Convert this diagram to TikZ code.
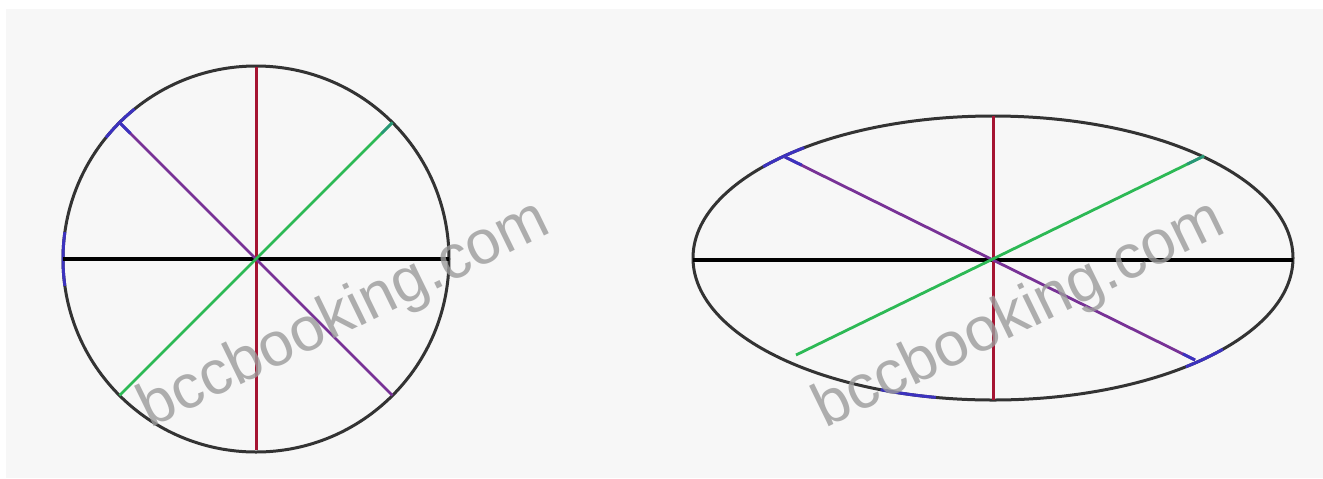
\documentclass[tikz,border=0pt]{standalone}
\usepackage{fontspec}
\usepackage{xcolor}
\usepackage{tikz}
\usetikzlibrary{calc}
\newfontfamily\wmfont{Liberation Sans}

\definecolor{bgray}{RGB}{247,247,247}
\definecolor{crim}{RGB}{165,20,50}
\definecolor{purp}{RGB}{120,50,150}
\definecolor{grn}{RGB}{45,185,85}
\definecolor{blu}{RGB}{60,50,190}
\definecolor{cyn}{RGB}{40,150,120}
\definecolor{wmgray}{RGB}{155,155,155}

\begin{document}
\begin{tikzpicture}[
x=0.5pt,
y=-0.5pt,
outline/.style={
    draw=black!80,
    line width=1.5pt
},
axisline/.style={
    draw=black,
    line width=1.6pt
},
vertline/.style={
    draw=crim,
    line width=1.5pt
},
diagA/.style={
    draw=purp,
    line width=1.4pt
},
diagB/.style={
    draw=grn,
    line width=1.4pt
},
tipline/.style={
    draw=blu,
    line width=1.5pt
},
wmark/.style={
    text=wmgray,
    opacity=0.8,
    font=\wmfont\fontsize{31pt}{31pt}\selectfont,
    rotate=26,
    inner sep=0pt
}
]

% Background
\useasboundingbox (0,0) rectangle (1323,478);
\fill[white] (0,0) rectangle (1323,478);
\fill[bgray] (6,9) rectangle (1323,478);

% Circle
\coordinate (cc) at (256,259);
\path (cc) ++(180:193) coordinate (cW)
      (cc) ++(0:193)   coordinate (cE)
      (cc) ++(270:192) coordinate (cN)
      (cc) ++(90:191)  coordinate (cS)
      (cc) ++(225:193) coordinate (cNW)
      (cc) ++(45:193)  coordinate (cSE)
      (cc) ++(135:193) coordinate (cSW)
      (cc) ++(315:193) coordinate (cNE);

\draw[outline] (cc) circle[radius=193];
\draw[tipline] (cc) ++(172:193) arc[start angle=172, end angle=188, radius=193];
\draw[tipline] (cc) ++(219:193) arc[start angle=219, end angle=231, radius=193];

\draw[axisline] (cW) -- (cE);
\draw[vertline] (cN) -- (cS);
\draw[diagA] (cNW) -- (cSE);
\draw[diagB] (cSW) -- (cNE);
\draw[tipline] (cNW) -- ($(cNW)!0.08!(cc)$);
\draw[draw=cyn, line width=1.4pt] (cNE) -- ($(cNE)!0.08!(cc)$);

% Ellipse
\coordinate (ec) at (993,258);
\path (ec) ++(-300,2)   coordinate (eW)
      (ec) ++(300,2)    coordinate (eE)
      (ec) ++(0,-142)   coordinate (eN)
      (ec) ++(0,142)    coordinate (eS)
      (ec) ++(-208,-101) coordinate (eNW)
      (ec) ++(202,102)  coordinate (eSE)
      (ec) ++(-197,97)  coordinate (eSW)
      (ec) ++(211,-102) coordinate (eNE);

\draw[outline] (ec) ellipse[x radius=300, y radius=142];
\draw[tipline] (ec) ++(220:300 and 142) arc[start angle=220, end angle=231, x radius=300, y radius=142];
\draw[tipline] (ec) ++(101:300 and 142) arc[start angle=101, end angle=112, x radius=300, y radius=142];
\draw[tipline] (ec) ++(40:300 and 142) arc[start angle=40, end angle=50, x radius=300, y radius=142];

\draw[axisline] (eW) -- (eE);
\draw[vertline] (eN) -- (eS);
\draw[diagA] (eNW) -- (eSE);
\draw[diagB] (eSW) -- (eNE);
\draw[tipline] (eNW) -- ($(eNW)!0.08!(ec)$);
\draw[tipline] (eSE) -- ($(eSE)!0.06!(ec)$);
\draw[draw=cyn, line width=1.4pt] (eNE) -- ($(eNE)!0.08!(ec)$);

% Watermarks
\node[wmark] (wmC) at (345,316) {bccbooking.com};
\node[wmark] (wmE) at (1020,316) {bccbooking.com};

\end{tikzpicture}
\end{document}
